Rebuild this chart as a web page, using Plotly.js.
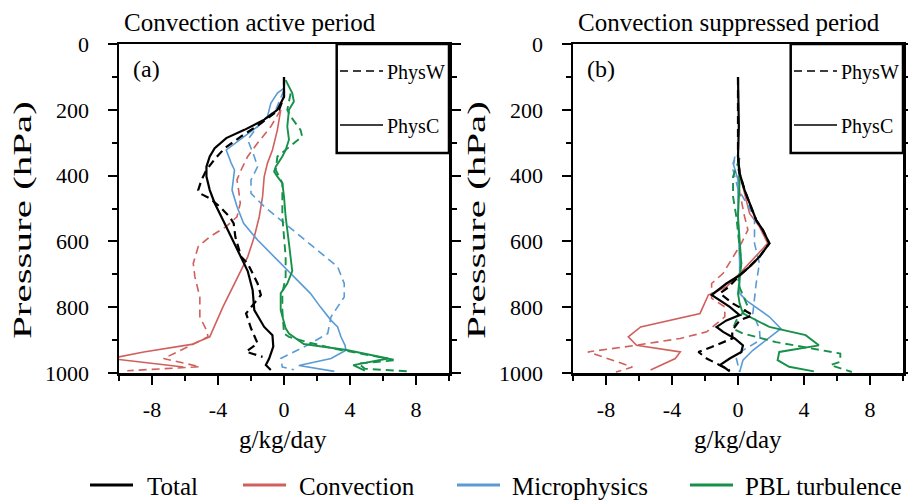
<!DOCTYPE html>
<html>
<head>
<meta charset="utf-8">
<script src="https://cdn.plot.ly/plotly-3.0.1.min.js"></script>
<style>html,body{margin:0;padding:0;background:#fff;}#chart{width:908px;height:500px;}</style>
</head>
<body>
<div id="chart"></div>
<script>
// ---------- Data (pressure in hPa, tendency in g/kg/day) ----------
// Panel (a): convection active period
var totC_a_p = [100, 160, 200, 230, 261, 286, 317, 342, 373, 403, 444, 484, 535, 586, 647, 690, 748, 809, 860, 885, 920, 956, 976, 991];
var totC_a_x = [0, 0, -0.4, -1.2, -2.4, -3.5, -4.2, -4.5, -4.7, -4.7, -4.5, -4.2, -3.7, -3.2, -2.6, -2.2, -1.9, -1.8, -1.2, -0.7, -0.65, -0.9, -1.1, -0.8];
var totW_a_p = [100, 160, 200, 241, 281, 317, 350, 383, 413, 444, 454, 469, 494, 525, 545, 586, 647, 667, 728, 763, 819, 864, 910, 935, 951];
var totW_a_x = [0, 0, -0.3, -1.4, -2.6, -3.6, -4.2, -4.7, -5.0, -5.2, -5.1, -4.5, -3.9, -3.3, -3.05, -2.95, -2.6, -2.2, -1.6, -1.4, -2.3, -2.0, -1.6, -2.3, -1.3];
var convC_a_p = [200, 261, 322, 362, 403, 464, 525, 586, 647, 728, 799, 890, 913, 936, 956, 982];
var convC_a_x = [-0.2, -0.4, -0.7, -1.0, -1.2, -1.3, -1.5, -1.8, -2.2, -3.0, -3.7, -4.5, -5.6, -8.5, -10.5, -6.1];
var convW_a_p = [200, 251, 301, 342, 383, 413, 444, 484, 525, 555, 586, 616, 667, 708, 769, 829, 870, 890, 915, 956, 981, 993];
var convW_a_x = [-0.2, -0.8, -1.6, -2.2, -2.6, -2.85, -2.75, -2.65, -2.85, -3.5, -4.5, -5.2, -5.5, -5.4, -5.1, -5.1, -4.7, -4.6, -5.6, -7.3, -5.1, -9.5];
var microC_a_p = [134, 149, 180, 220, 251, 281, 322, 362, 383, 403, 444, 494, 545, 596, 647, 698, 758, 799, 840, 860, 890, 916, 931, 956, 977, 995];
var microC_a_x = [0, -0.4, -0.8, -1.0, -1.6, -2.4, -3.5, -3.2, -3.0, -3.05, -3.15, -2.85, -2.45, -1.6, -0.6, 0.4, 1.6, 2.2, 2.85, 3.25, 3.45, 3.7, 3.75, 2.85, 0.9, 3.05];
var microW_a_p = [140, 200, 251, 291, 342, 373, 413, 454, 494, 535, 576, 627, 677, 728, 769, 799, 829, 880, 916, 956, 982, 990];
var microW_a_x = [0, -0.5, -1.6, -2.2, -1.8, -1.6, -2.0, -2.0, -1.2, -0.2, 0.8, 2.0, 3.25, 3.65, 3.65, 3.25, 2.85, 2.65, 1.4, -0.2, -0.1, 0.6];
var pblC_a_p = [110, 149, 175, 200, 251, 291, 322, 342, 373, 388, 403, 423, 464, 525, 606, 690, 728, 758, 809, 864, 880, 912, 930, 956, 976, 993];
var pblC_a_x = [0.1, 0.5, 0.6, 0.3, 0.2, 0.3, 0.1, -0.1, -0.5, -0.6, -0.4, -0.1, 0, 0.1, 0.3, 0.5, 0.2, -0.2, -0.2, 0.1, 0.3, 1.2, 3.8, 6.3, 4.2, 4.9];
var pblW_a_p = [150, 200, 220, 261, 281, 301, 342, 383, 423, 525, 586, 647, 708, 758, 809, 880, 890, 906, 926, 961, 971, 987, 995];
var pblW_a_x = [0.4, 0.2, 0.4, 1.0, 1.1, 0.6, -0.4, -0.5, -0.1, -0.1, 0, 0.1, 0.1, -0.1, -0.1, 0, 0.3, 1.4, 3.05, 6.8, 4.5, 4.9, 7.5];

// Panel (b): convection suppressed period
var totC_b_p = [100, 250, 342, 393, 444, 484, 535, 565, 606, 647, 677, 703, 728, 763, 779, 799, 824, 840, 860, 875, 895, 916, 936, 956, 976, 984, 995];
var totC_b_x = [0, 0.05, 0, 0.1, 0.4, 0.7, 1.1, 1.5, 1.9, 1.3, 0.7, 0.1, -0.7, -1.6, -1.1, -0.5, 0.1, -0.7, -1.3, -0.9, -0.2, 0.3, 0.2, -0.5, -1.1, -0.8, -0.5];
var totW_b_p = [100, 342, 393, 444, 484, 535, 565, 606, 647, 677, 703, 740, 758, 789, 824, 840, 870, 895, 921, 936, 956, 976, 991];
var totW_b_x = [0, 0, 0.1, 0.4, 0.7, 1.1, 1.5, 1.9, 1.3, 0.7, 0.1, -0.6, -1.1, -0.3, 0.9, 0.1, -0.35, -0.35, -1.6, -2.4, -1.9, -1.1, -0.5];
var convC_b_p = [380, 434, 515, 555, 606, 667, 698, 738, 763, 819, 860, 890, 916, 936, 956, 991];
var convC_b_x = [0, 0.3, 0.7, 1.3, 1.8, 0.7, 0.1, -0.7, -1.8, -2.3, -5.9, -6.65, -6.15, -3.5, -3.8, -5.3];
var convW_b_p = [400, 450, 525, 565, 606, 647, 697, 728, 773, 799, 829, 875, 895, 916, 936, 961, 982, 997];
var convW_b_x = [0, 0.1, 0.4, 0.6, 0.2, -0.3, -0.9, -1.6, -1.6, -0.8, -0.8, -1.9, -3.5, -6.2, -9.1, -7.6, -6.4, -7.4];
var microC_b_p = [352, 362, 413, 525, 667, 758, 779, 809, 829, 865, 895, 931, 961, 997];
var microC_b_x = [-0.2, -0.3, 0, 0, 0.1, 0.1, 0.5, 1.3, 1.9, 2.6, 1.8, 0.9, 0.3, 0.1];
var microW_b_p = [342, 383, 440, 525, 606, 667, 728, 769, 819, 865, 900, 931, 956, 997];
var microW_b_x = [-0.2, -0.3, 0, 1.0, 1.0, 1.3, 1.1, 1.0, 0.9, 1.3, 1.34, 0.3, -0.1, 0.1];
var pblC_b_p = [352, 413, 525, 667, 758, 789, 819, 840, 860, 885, 916, 936, 961, 981, 995];
var pblC_b_x = [0, 0.1, 0, 0.2, 0.0, 0.1, 0.3, 1.1, 1.9, 4.1, 4.9, 2.5, 2.4, 3.1, 4.6];
var pblW_b_p = [347, 403, 464, 525, 667, 728, 799, 840, 865, 880, 906, 926, 941, 966, 976, 997];
var pblW_b_x = [0.1, -0.3, -0.3, -0.1, 0.2, 0, 0.6, -0.1, -0.3, 0.3, 2.3, 4.4, 6.2, 6.2, 5.6, 6.9];

// Tick labels
var xTickVals = [-8, -4, 0, 4, 8];
var xTickText = ['-8', '-4', '0', '4', '8'];
var yTickVals = [0, 200, 400, 600, 800, 1000];
var yTickText = ['0', '200', '400', '600', '800', '1000'];

// Series names / colors
var seriesNames = ['Total', 'Convection', 'Microphysics', 'PBL turbulence'];
var seriesColors = ['#000000', '#d0605c', '#5b9bd5', '#17914a'];
var panelTitles = ['Convection active period', 'Convection suppressed period'];
var panelLabels = ['(a)', '(b)'];
var styleNames = ['PhysW', 'PhysC'];

// ---------- Traces ----------
var FONT = 'Liberation Serif';
function tr(x, p, color, dashed, ax, w) {
  return {
    type: 'scatter', mode: 'lines', x: x, y: p,
    xaxis: ax === 2 ? 'x2' : 'x', yaxis: ax === 2 ? 'y2' : 'y',
    line: {color: color, width: w, dash: dashed ? '8px,5px' : 'solid'},
    showlegend: false, hoverinfo: 'skip'
  };
}
var cw = 1.6, bw = 2.2;
var data = [
  tr(convW_a_x, convW_a_p, seriesColors[1], true, 1, cw),
  tr(convC_a_x, convC_a_p, seriesColors[1], false, 1, cw),
  tr(microW_a_x, microW_a_p, seriesColors[2], true, 1, cw),
  tr(microC_a_x, microC_a_p, seriesColors[2], false, 1, cw),
  tr(pblW_a_x, pblW_a_p, seriesColors[3], true, 1, cw + 0.3),
  tr(pblC_a_x, pblC_a_p, seriesColors[3], false, 1, cw + 0.3),
  tr(totW_a_x, totW_a_p, seriesColors[0], true, 1, bw),
  tr(totC_a_x, totC_a_p, seriesColors[0], false, 1, bw),
  tr(convW_b_x, convW_b_p, seriesColors[1], true, 2, cw),
  tr(convC_b_x, convC_b_p, seriesColors[1], false, 2, cw),
  tr(microW_b_x, microW_b_p, seriesColors[2], true, 2, cw),
  tr(microC_b_x, microC_b_p, seriesColors[2], false, 2, cw),
  tr(pblW_b_x, pblW_b_p, seriesColors[3], true, 2, cw + 0.3),
  tr(pblC_b_x, pblC_b_p, seriesColors[3], false, 2, cw + 0.3),
  tr(totW_b_x, totW_b_p, seriesColors[0], true, 2, bw),
  tr(totC_b_x, totC_b_p, seriesColors[0], false, 2, bw)
];

// ---------- Layout ----------
var W = 908, H = 500;
function px(v) { return v / W; }
function py(v) { return 1 - v / H; }
var plotTop = 44, plotBot = 373;
var domA = [px(119), px(449)], domB = [px(573), px(903)];
var yDom = [py(plotBot), py(plotTop)];

function xAx(dom, anchor) {
  return {
    domain: dom, anchor: anchor, range: [-10, 10], fixedrange: true,
    showgrid: false, zeroline: false, showline: true, linecolor: '#000', linewidth: 2.5, mirror: true,
    ticks: 'outside', ticklen: 9, tickwidth: 2, tickcolor: '#000',
    tickmode: 'array', tickvals: xTickVals, ticktext: xTickText, ticklabelstandoff: 6,
    tickfont: {family: FONT, size: 22, color: '#000'},
    minor: {ticks: 'outside', tickmode: 'linear', tick0: 0, dtick: 2, ticklen: 5, tickwidth: 2, tickcolor: '#000', showgrid: false}
  };
}
function yAx(anchor) {
  return {
    domain: yDom, anchor: anchor, range: [1000, 0], fixedrange: true,
    showgrid: false, zeroline: false, showline: true, linecolor: '#000', linewidth: 2.5, mirror: 'ticks',
    ticks: 'outside', ticklen: 9, tickwidth: 2, tickcolor: '#000',
    tickmode: 'array', tickvals: yTickVals, ticktext: yTickText, ticklabelstandoff: 14,
    tickfont: {family: FONT, size: 22, color: '#000'},
    minor: {ticks: 'outside', tickmode: 'linear', tick0: 0, dtick: 100, ticklen: 5, tickwidth: 2, tickcolor: '#000', showgrid: false}
  };
}

var shapes = [], annotations = [];
var panelLeft = [119, 573], panelZero = [283.3, 738.3];
for (var k = 0; k < 2; k++) {
  var L = panelLeft[k], R = L + 330;
  // line-style legend box inside the panel
  shapes.push({type: 'rect', xref: 'paper', yref: 'paper', x0: px(L + 217.7), x1: px(R), y0: py(153), y1: py(plotTop),
    line: {color: '#000', width: 2.5}, fillcolor: 'rgba(0,0,0,0)', layer: 'above'});
  shapes.push({type: 'line', xref: 'paper', yref: 'paper', x0: px(L + 221), x1: px(L + 264), y0: py(71), y1: py(71),
    line: {color: '#000', width: 1.6, dash: '8px,5px'}});
  shapes.push({type: 'line', xref: 'paper', yref: 'paper', x0: px(L + 221), x1: px(L + 264), y0: py(125), y1: py(125),
    line: {color: '#000', width: 1.6}});
  annotations.push({xref: 'paper', yref: 'paper', x: px(L + 266), y: py(72), text: styleNames[0], showarrow: false,
    xanchor: 'left', yanchor: 'middle', font: {family: FONT, size: 20, color: '#000'}});
  annotations.push({xref: 'paper', yref: 'paper', x: px(L + 266), y: py(126), text: styleNames[1], showarrow: false,
    xanchor: 'left', yanchor: 'middle', font: {family: FONT, size: 20, color: '#000'}});
  // panel title & label
  annotations.push({xref: 'paper', yref: 'paper', x: px(L + 3), y: py(22), text: panelTitles[k], showarrow: false,
    xanchor: 'left', yanchor: 'middle', font: {family: FONT, size: 25, color: '#000'}});
  annotations.push({xref: 'paper', yref: 'paper', x: px(L + 12), y: py(69), text: panelLabels[k], showarrow: false,
    xanchor: 'left', yanchor: 'middle', font: {family: FONT, size: 24, color: '#000'}});
  // axis titles
  annotations.push({xref: 'paper', yref: 'paper', x: px(panelZero[k]), y: py(439), text: 'g/kg/day', showarrow: false,
    xanchor: 'center', yanchor: 'middle', font: {family: FONT, size: 25, color: '#000'}});
  annotations.push({xref: 'paper', yref: 'paper', x: px(L - 97), y: py(220), text: 'Pressure (hPa)', showarrow: false,
    textangle: -90, xanchor: 'center', yanchor: 'middle', font: {family: FONT, size: 41, color: '#000'}});
}
// bottom legend (series colours)
var legLineX = [90, 243, 457, 690], legTextX = [145, 297, 510, 743];
for (var i = 0; i < seriesNames.length; i++) {
  shapes.push({type: 'line', xref: 'paper', yref: 'paper', x0: px(legLineX[i]), x1: px(legLineX[i] + 43), y0: py(485), y1: py(485),
    line: {color: seriesColors[i], width: 3}});
  annotations.push({xref: 'paper', yref: 'paper', x: px(legTextX[i]), y: py(486), text: seriesNames[i], showarrow: false,
    xanchor: 'left', yanchor: 'middle', font: {family: FONT, size: 25, color: '#000'}});
}

var layout = {
  width: W, height: H, margin: {l: 0, r: 0, t: 0, b: 0},
  paper_bgcolor: '#fff', plot_bgcolor: '#fff', showlegend: false,
  font: {family: FONT, color: '#000'},
  xaxis: xAx(domA, 'y'), yaxis: yAx('x'),
  xaxis2: xAx(domB, 'y2'), yaxis2: yAx('x2'),
  shapes: shapes, annotations: annotations
};

Plotly.newPlot('chart', data, layout, {staticPlot: true, displayModeBar: false}).then(function (gd) {
  // the reference's y titles are long and narrow: compress them across their length
  var texts = gd.querySelectorAll('text.annotation-text');
  texts.forEach(function (t) {
    if (t.textContent !== 'Pressure (hPa)') return;
    var el = t;
    while (el && el !== gd) {
      var trs = el.getAttribute && el.getAttribute('transform');
      if (trs && trs.indexOf('rotate') >= 0) {
        var m = trs.match(/rotate\(\s*(-?[\d.]+)[\s,]+(-?[\d.]+)[\s,]+(-?[\d.]+)\s*\)/);
        if (m) {
          var cx = parseFloat(m[2]), cy = parseFloat(m[3]);
          el.setAttribute('transform', trs + ' translate(' + cx + ',' + cy + ') scale(1,0.62) translate(' + (-cx) + ',' + (-cy) + ')');
        }
        break;
      }
      el = el.parentNode;
    }
  });
});
</script>
</body>
</html>
